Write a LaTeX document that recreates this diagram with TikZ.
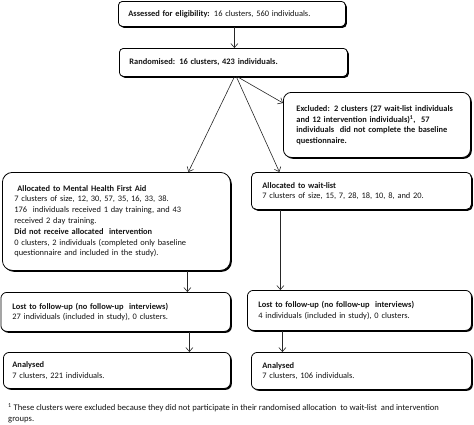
\documentclass[tikz,border=0pt]{standalone}
\usepackage{fontspec}
\setmainfont{Carlito}
\usetikzlibrary{arrows.meta,shadows}
\begin{document}
\begin{tikzpicture}[x=1pt,y=-1pt,
  box/.style={draw=black, line width=0.8pt, fill=white, rounded corners=4pt,
    anchor=north west, align=left, inner ysep=0pt,
    font=\fontsize{8.4}{10.6}\selectfont, text=black!92,
    drop shadow={shadow xshift=1.4pt,shadow yshift=-1.4pt,opacity=1,fill=black}},
  arr/.style={-{Straight Barb[length=4pt,width=7pt]}, line width=0.6pt, draw=black!85}]
\useasboundingbox (0,0) rectangle (474,424);

\node[box, minimum width=227pt, minimum height=25pt, inner xsep=10pt, text width=207pt] (assess) at (118,1)
  {\textbf{Assessed for eligibility:} 16 clusters, 560 individuals.};
\node[box, minimum width=228pt, minimum height=28pt, inner xsep=10pt, text width=208pt] (rand) at (119,48)
  {\textbf{Randomised: 16 clusters, 423 individuals.}};
\node[box, rounded corners=8pt, minimum width=187pt, minimum height=65pt, inner xsep=13pt, text width=161pt] (excl) at (283,92)
  {\textbf{Excluded: 2 clusters (27 wait-list individuals}\\
   \textbf{and 12 intervention individuals)\textsuperscript{1},\ \ 57}\\
   \textbf{individuals\ \ did not complete the baseline}\\
   \textbf{questionnaire.}};
\node[box, rounded corners=10pt, minimum width=228pt, minimum height=98pt, inner xsep=12pt, text width=204pt] (mhfa) at (2,172)
  {\hspace{3pt}\textbf{Allocated to Mental Health First Aid}\\
   7 clusters of size, 12, 30, 57, 35, 16, 33, 38.\\
   176\ \ individuals received 1 day training, and 43\\
   received 2 day training.\\[1pt]
   \textbf{Did not receive allocated\ \ intervention}\\
   0 clusters, 2 individuals (completed only baseline\\
   questionnaire and included in the study).};
\node[box, rounded corners=5pt, minimum width=220pt, minimum height=37pt, inner xsep=11pt, text width=198pt] (wait) at (251,172)
  {\textbf{Allocated to wait-list}\\
   7 clusters of size, 15, 7, 28, 18, 10, 8, and 20.};
\node[box, rounded corners=6pt, minimum width=229.5pt, minimum height=39pt, inner xsep=11.5pt, text width=206.5pt] (lost1) at (0.5,292)
  {\textbf{Lost to follow-up (no follow-up\ \ interviews)}\\
   27 individuals (included in study), 0 clusters.};
\node[box, rounded corners=6pt, minimum width=224pt, minimum height=40pt, inner xsep=11pt, text width=202pt] (lost2) at (247,290)
  {\textbf{Lost to follow-up (no follow-up\ \ interviews)}\\
   4 individuals (included in study), 0 clusters.};
\node[box, rounded corners=6pt, minimum width=227pt, minimum height=36pt, inner xsep=9pt, text width=209pt] (anal1) at (3,352)
  {\textbf{Analysed}\\
   7 clusters, 221 individuals.};
\node[box, rounded corners=6pt, minimum width=220pt, minimum height=37pt, inner xsep=11pt, text width=198pt] (anal2) at (251,352)
  {\textbf{Analysed}\\
   7 clusters, 106 individuals.};

\node[anchor=north west, inner sep=0pt, align=left, font=\fontsize{8.6}{11}\selectfont, text=black!92] (fn) at (8,403)
  {\textsuperscript{1} These clusters were excluded because they did not participate in their randomised allocation\ \ to wait-list\ \ and intervention\\
   groups.};

\draw[arr] ([xshift=2.5pt]assess.south) -- ([xshift=1pt]rand.north);
\draw[arr] ([xshift=1pt]rand.south) -- ([xshift=72pt]mhfa.north);
\draw[arr] ([xshift=3pt]rand.south) -- ([xshift=-82pt]wait.north);
\draw[arr] ([xshift=4pt]rand.south) -- ([yshift=-11pt]excl.north west);
\draw[arr] ([xshift=71pt]mhfa.south) -- ([xshift=71.75pt]lost1.north);
\draw[arr] ([xshift=-81pt]wait.south) -- ([xshift=-79pt]lost2.north);
\draw[arr] ([xshift=73.75pt]lost1.south) -- ([xshift=72.5pt]anal1.north);
\draw[arr] ([xshift=-77pt]lost2.south) -- ([xshift=-79pt]anal2.north);
\end{tikzpicture}
\end{document}
